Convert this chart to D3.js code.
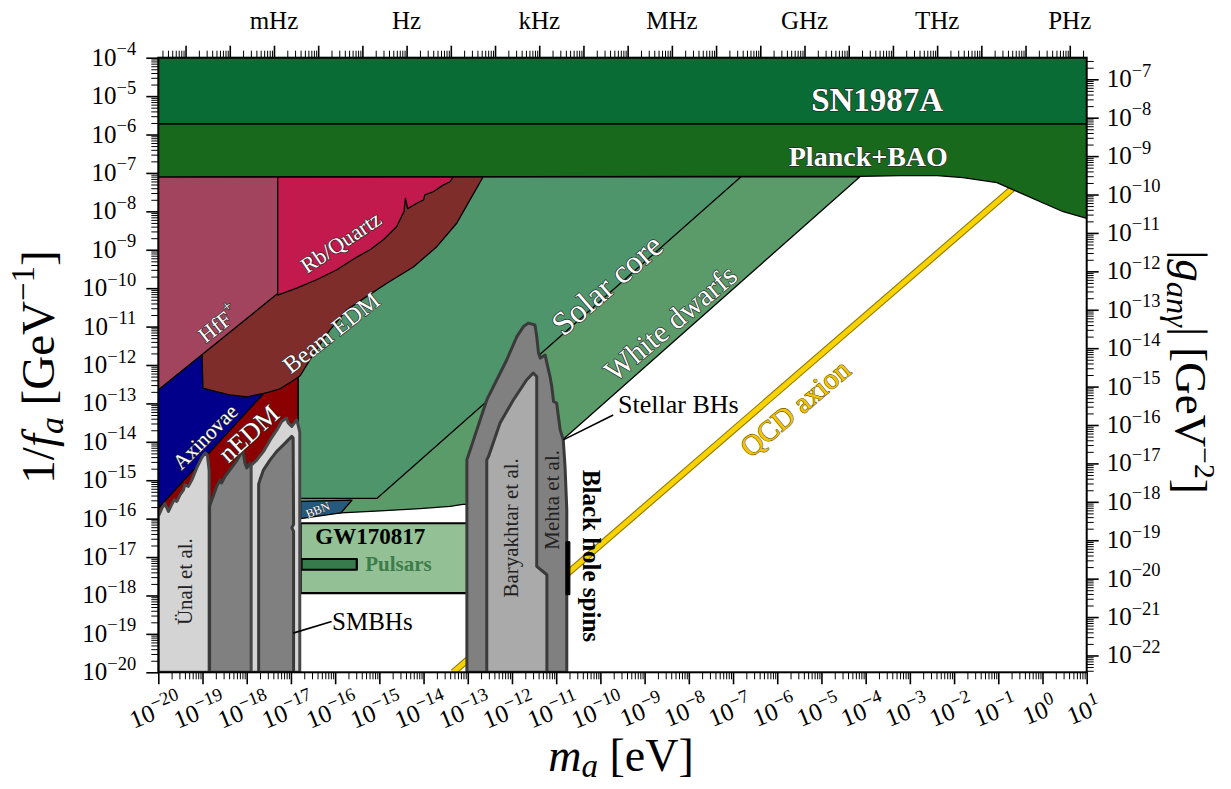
<!DOCTYPE html>
<html>
<head>
<meta charset="utf-8">
<script src="https://cdn.jsdelivr.net/npm/d3@7"></script>
<style>
  body { margin: 0; background: #fff; }
  svg { display: block; font-family: "Palatino Linotype", "Book Antiqua", Palatino, "Liberation Serif", serif; }
</style>
</head>
<body>
<svg id="chart" width="1231" height="789"></svg>
<script>
// --- data: [log10 m_a / eV, log10 (1/f_a) / GeV^-1] ---
const sn1987a = [[-20, -4], [1, -4], [1, -5.72], [-20, -5.72]];
const planckBAO = [[-20, -5.72], [1, -5.72], [1, -8.18], [0.47, -8.01], [-0.05, -7.75], [-0.66, -7.44],
  [-1.03, -7.25], [-1.80, -7.12], [-2.38, -7.07], [-3.22, -7.07], [-4.13, -7.09], [-20, -7.1]];
const hff = [[-20, -7.1], [-17.30, -7.1], [-17.30, -10.14], [-20, -12.65]];
const rbQuartz = [[-17.30, -7.1], [-13.33, -7.1], [-13.40, -7.23], [-13.55, -7.31], [-13.78, -7.49], [-13.97, -7.57],
  [-14.00, -7.70], [-14.15, -7.79], [-14.36, -7.93], [-14.41, -7.66], [-14.44, -8.00], [-14.61, -8.40],
  [-14.91, -8.74], [-15.21, -9.00], [-15.51, -9.19], [-15.96, -9.52], [-16.42, -9.78], [-16.87, -10.00], [-17.30, -10.18]];
const beamEDM = [[-19.01, -7.1], [-12.65, -7.1], [-12.95, -7.70], [-13.25, -8.31], [-13.70, -8.92], [-14.23, -9.45],
  [-14.83, -9.87], [-15.29, -10.22], [-15.74, -10.57], [-16.12, -11.09], [-16.46, -11.66], [-16.79, -12.28],
  [-17.02, -12.46], [-17.25, -12.62], [-17.54, -12.72], [-17.99, -12.83], [-18.38, -12.78], [-18.67, -12.70],
  [-18.99, -12.60], [-19.01, -11.76]];
const axinovae = [[-20, -10.0], [-17.63, -10.0], [-17.63, -12.76], [-20, -15.73]];
const nEDM = [[-20, -10.0], [-16.84, -10.0], [-16.84, -20], [-20, -20]];
const solarCore = [[-16.84, -7.1], [-6.82, -7.1], [-15.05, -15.47], [-16.84, -15.47]];
const whiteDwarfs = [[-16.84, -7.1], [-4.13, -7.1], [-12.50, -15.62], [-13.11, -15.63], [-13.40, -15.68],
  [-14.08, -15.74], [-14.98, -15.80], [-15.87, -15.85], [-16.84, -15.88]];
const bbn = [[-16.78, -15.55], [-15.62, -15.52], [-15.87, -15.85], [-16.78, -16.00]];
const gw170817 = [[-16.78, -16.12], [-12.95, -16.12], [-12.95, -17.94], [-16.78, -17.94]];
const pulsars = [[-16.76, -17.05], [-15.51, -17.05], [-15.51, -17.33], [-16.76, -17.33]];
const qcdAxion = [[-13.33, -20], [-0.66, -7.39]];
const unal = [[-20, -20], [-20, -15.94], [-19.92, -15.73], [-19.85, -15.61], [-19.77, -15.81], [-19.70, -15.64],
  [-19.64, -15.51], [-19.58, -15.55], [-19.51, -15.38], [-19.43, -15.25], [-19.40, -15.12], [-19.32, -15.16],
  [-19.24, -14.99], [-19.13, -14.68], [-19.02, -14.42], [-18.94, -14.29], [-18.89, -14.34], [-18.85, -14.75], [-18.85, -20]];
const smbhA = [[-18.84, -20], [-18.84, -15.70], [-18.83, -15.64], [-18.76, -15.42], [-18.68, -15.16], [-18.60, -14.99],
  [-18.57, -15.07], [-18.49, -14.90], [-18.38, -14.73], [-18.26, -14.55], [-18.15, -14.34], [-18.09, -14.21],
  [-18.04, -14.55], [-18.00, -14.68], [-17.93, -14.55], [-17.89, -14.73], [-17.88, -17.05], [-17.84, -17.15],
  [-17.88, -17.25], [-17.88, -20]];
const smbhEnvelope = [[-17.90, -20], [-17.90, -14.62], [-17.89, -14.60], [-17.77, -14.47], [-17.62, -14.25],
  [-17.47, -13.95], [-17.32, -13.69], [-17.21, -13.47], [-17.10, -13.38], [-17.06, -13.51], [-16.98, -13.60],
  [-16.87, -13.43], [-16.83, -13.60], [-16.80, -13.75], [-16.80, -20]];
const smbhB = [[-17.73, -20], [-17.73, -15.10], [-17.70, -14.99], [-17.62, -14.73], [-17.47, -14.47], [-17.32, -14.25],
  [-17.17, -14.08], [-17.06, -13.95], [-16.98, -13.86], [-16.95, -13.90], [-16.94, -16.15], [-16.98, -16.24],
  [-16.94, -16.33], [-16.94, -20]];
const stellarBH = [[-13.02, -20], [-13.02, -14.47], [-12.57, -12.91], [-12.12, -11.87], [-11.89, -11.26],
  [-11.74, -11.00], [-11.63, -10.91], [-11.48, -10.96], [-11.44, -11.26], [-11.40, -11.69], [-11.36, -11.82],
  [-11.25, -11.74], [-11.21, -11.95], [-11.14, -12.30], [-11.10, -12.56], [-11.06, -12.95], [-10.99, -12.99],
  [-10.91, -13.69], [-10.84, -13.95], [-10.80, -14.64], [-10.76, -15.77], [-10.76, -20]];
const baryakhtar = [[-12.57, -20], [-12.57, -14.47], [-12.53, -14.38], [-12.27, -13.51], [-11.97, -12.91],
  [-11.67, -12.39], [-11.52, -12.21], [-11.44, -12.30], [-11.44, -17.24], [-11.21, -17.46], [-11.21, -20]];
const bhSpinBar = [[-10.78, -16.60], [-10.69, -16.60], [-10.69, -17.98], [-10.78, -17.98]];
const stellarLeader = [[-10.84, -13.95], [-9.71, -13.30]];
const smbhLeader = [[-16.95, -18.98], [-16.08, -18.68]];

// axis ticks
const xExps = d3.range(-20, 2);        // 10^-20 ... 10^1 eV
const yExps = d3.range(-20, -3);       // 10^-20 ... 10^-4 GeV^-1
const gExps = d3.range(-22, -6);       // 10^-22 ... 10^-7 GeV^-2
const freqUnits = ["mHz", "Hz", "kHz", "MHz", "GHz", "THz", "PHz"];
const freqExps = [-3, 0, 3, 6, 9, 12, 15];
const gPerInvFa = 10 ** -2.438;        // right axis offset
const hPlanck = 4.135667e-15;          // eV s

const W = 1231, H = 789;
const margin = { top: 57.7, right: 144.3, bottom: 116.7, left: 158.3 };

const x = d3.scaleLog().domain([1e-20, 10]).range([margin.left, W - margin.right]);
const y = d3.scaleLog().domain([1e-20, 1e-4]).range([H - margin.bottom, margin.top]);
const yR = d3.scaleLog().domain([1e-20 * gPerInvFa, 1e-4 * gPerInvFa]).range(y.range());
const xTop = d3.scaleLog().domain([1e-20 / hPlanck, 10 / hPlanck]).range(x.range());

const svg = d3.select("#chart");
const [x0, x1] = x.range(), [y1, y0] = y.range();

svg.append("clipPath").attr("id", "plotclip")
  .append("rect").attr("x", x0).attr("y", y0).attr("width", x1 - x0).attr("height", y1 - y0);

const plot = svg.append("g").attr("clip-path", "url(#plotclip)");
const line = d3.line().x(d => x(10 ** d[0])).y(d => y(10 ** d[1]));

function region(pts, fill, stroke = "#000", sw = 1.3) {
  plot.append("path")
    .attr("d", line(pts) + "Z")
    .attr("fill", fill)
    .attr("stroke", stroke)
    .attr("stroke-width", sw)
    .attr("stroke-linejoin", "round");
}

// --- regions, back to front ---
region(whiteDwarfs, "#5a9b69");
region(solarCore, "#4f956c");
region(bbn, "#26597e");
region(gw170817, "#93c094", "#000", 2.2);
region(pulsars, "#377a4b", "#000", 2.2);
region(nEDM, "#8b0000");
region(axinovae, "#00008b");
region(beamEDM, "#7e2d2b");
region(hff, "#a3445e");
region(rbQuartz, "#c21a4c");

plot.append("path").attr("d", line(qcdAxion))
  .attr("stroke", "#8f7800").attr("stroke-width", 7).attr("fill", "none");
plot.append("path").attr("d", line(qcdAxion))
  .attr("stroke", "#f9d300").attr("stroke-width", 4.8).attr("fill", "none");

region(stellarBH, "#808080", "#3a3a3a", 3);
region(baryakhtar, "#aaaaaa", "#3a3a3a", 3);
region(bhSpinBar, "#000", "#000", 1);
region(unal, "#d4d4d4", "#474747", 3);
region(smbhA, "#808080", "#3a3a3a", 3);
region(smbhEnvelope, "#d4d4d4", "#474747", 3);
region(smbhB, "#808080", "#3a3a3a", 3);
region(planckBAO, "#19691d");
region(sn1987a, "#086c34");

for (const l of [stellarLeader, smbhLeader]) {
  plot.append("path").attr("d", line(l)).attr("stroke", "#000").attr("stroke-width", 1.6).attr("fill", "none");
}

// --- rich text helper ---
function rich(sel, parts, fs, supScale = 0.7, subShift = 0.2) {
  let shift = 0;
  for (const p of parts) {
    let target = 0, size = fs;
    if (p.sub) { target = fs * subShift; size = fs * 0.72; }
    if (p.sup) { target = -fs * 0.42; size = fs * supScale; }
    const ts = sel.append("tspan").text(p.t).attr("font-size", size);
    if (target - shift !== 0) ts.attr("dy", target - shift);
    if (p.i) ts.attr("font-style", "italic");
    shift = target;
  }
  return sel;
}
const P = (lx, ly) => [x(10 ** lx), y(10 ** ly)];

// --- in-plot labels ---
const labels = svg.append("g");
function label(txt, lx, ly, opt = {}) {
  const [px, py] = P(lx, ly);
  const g = labels.append("g").attr("transform", `translate(${px},${py}) rotate(${opt.angle || 0})`);
  const t = g.append("text")
    .attr("text-anchor", opt.anchor || "middle")
    .attr("dominant-baseline", opt.baseline || "central")
    .attr("font-size", opt.size || 22)
    .attr("font-weight", opt.bold ? "bold" : null)
    .attr("fill", opt.fill || "#000");
  if (opt.stroke) t.attr("stroke", opt.stroke).attr("stroke-width", opt.sw || 1.2).attr("paint-order", "stroke").attr("stroke-linejoin", "round");
  if (Array.isArray(txt)) rich(t, txt, opt.size || 22); else t.text(txt);
}
const white = { fill: "#fff", stroke: "#2a2a2a", sw: 1.4 };

label("SN1987A", -3.74, -5.39, { ...white, size: 33, bold: true, baseline: "alphabetic" });
label("Planck+BAO", -3.94, -6.82, { ...white, size: 28, bold: true, baseline: "alphabetic" });
label("Solar core", -9.85, -9.91, { ...white, size: 33, angle: -41 });
label("White dwarfs", -8.42, -10.90, { ...white, size: 30, angle: -40 });
label("Beam EDM", -16.09, -11.16, { ...white, size: 24, angle: -38 });
label([{ t: "HfF" }, { t: "+", sup: true }], -18.65, -10.93, { ...white, size: 22, angle: -38 });
label("Rb/Quartz", -15.87, -8.80, { ...white, size: 22, angle: -34 });
label("Axinovae", -18.94, -13.87, { ...white, size: 21, angle: -45 });
label("nEDM", -17.95, -13.79, { ...white, size: 26, angle: -42 });
label("BBN", -16.39, -15.77, { ...white, size: 12, sw: 0.8, angle: -22 });
label("QCD axion", -5.60, -13.12, { fill: "#f2c500", stroke: "#6b5800", sw: 1.2, size: 29, angle: -40 });
label("Ünal et al.", -19.40, -17.64, { size: 21, angle: -90, fill: "#222" });
label("Baryakhtar et al.", -12.02, -16.24, { size: 21, angle: -90, fill: "#222" });
label("Mehta et al.", -11.09, -15.51, { size: 21, angle: -90, fill: "#222" });
label("Black hole spins", -10.19, -16.97, { size: 25, angle: 90, bold: true });
label("Stellar BHs", -9.60, -13.25, { size: 26, anchor: "start", baseline: "alphabetic" });
label("SMBHs", -16.07, -18.89, { size: 25, anchor: "start", baseline: "alphabetic" });
label("GW170817", -16.45, -16.65, { size: 23, bold: true, anchor: "start", baseline: "alphabetic" });
label("Pulsars", -15.32, -17.35, { size: 21, bold: true, anchor: "start", baseline: "alphabetic", fill: "#3d7c4b" });

// --- frame ---
svg.append("rect").attr("x", x0).attr("y", y0).attr("width", x1 - x0).attr("height", y1 - y0)
  .attr("fill", "none").attr("stroke", "#000").attr("stroke-width", 2);

// --- axes ---
function minorsOf(scale, lo, hi) {
  const [a, b] = d3.extent(scale.domain());
  const out = [];
  for (let e = lo; e <= hi; e++) for (let k = 2; k <= 9; k++) {
    const v = k * 10 ** e;
    if (v >= a * 0.999 && v <= b * 1.001) out.push(v);
  }
  return out;
}
function tickAxis(axisFn, scale, vals, size, sw, tr) {
  svg.append("g").attr("transform", tr)
    .call(axisFn(scale).tickValues(vals).tickSize(size).tickFormat(""))
    .call(g => g.select(".domain").remove())
    .call(g => g.selectAll(".tick line").attr("stroke", "#000").attr("stroke-width", sw));
}
tickAxis(d3.axisLeft, y, yExps.map(e => 10 ** e), 12, 1.6, `translate(${x0},0)`);
tickAxis(d3.axisLeft, y, minorsOf(y, -20, -5), 7, 1, `translate(${x0},0)`);
tickAxis(d3.axisBottom, x, xExps.map(e => 10 ** e), 12, 1.6, `translate(0,${y1})`);
tickAxis(d3.axisBottom, x, minorsOf(x, -20, 0), 7, 1, `translate(0,${y1})`);
tickAxis(d3.axisRight, yR, gExps.map(e => 10 ** e), 12, 1.6, `translate(${x1},0)`);
tickAxis(d3.axisRight, yR, minorsOf(yR, -23, -7), 7, 1, `translate(${x1},0)`);
tickAxis(d3.axisTop, xTop, d3.range(-5, 16).map(e => 10 ** e), 12, 1.6, `translate(0,${y0})`);
tickAxis(d3.axisTop, xTop, minorsOf(xTop, -6, 15), 7, 1, `translate(0,${y0})`);

const pow = e => [{ t: "10" }, { t: e < 0 ? "\u2212" + (-e) : String(e), sup: true }];
const TF = 25;
const tl = svg.append("g").attr("font-size", TF).attr("fill", "#000");

for (const e of yExps) {
  rich(tl.append("text").attr("x", x0 - 22).attr("y", y(10 ** e) + 8).attr("text-anchor", "end"), pow(e), TF, 0.74);
}
for (const e of gExps) {
  rich(tl.append("text").attr("x", x1 + 20).attr("y", yR(10 ** e) + 8).attr("text-anchor", "start"), pow(e), TF, 0.74);
}
for (const e of xExps) {
  const g = tl.append("g").attr("transform", `translate(${x(10 ** e) - 3},${y1 + 38}) rotate(-22)`);
  rich(g.append("text").attr("text-anchor", "middle").attr("y", 9), pow(e), TF, 0.74);
}
freqExps.forEach((e, i) => {
  tl.append("text").attr("x", xTop(10 ** e)).attr("y", 29).attr("text-anchor", "middle").text(freqUnits[i]);
});

// --- axis titles ---
rich(svg.append("text").attr("transform", `translate(54,367) rotate(-90)`).attr("text-anchor", "middle"),
  [{ t: "1/" }, { t: "f", i: true }, { t: "a", i: true, sub: true }, { t: " [GeV" }, { t: "\u22121", sup: true }, { t: "]" }], 47);
rich(svg.append("text").attr("x", 621).attr("y", 771).attr("text-anchor", "middle"),
  [{ t: "m", i: true }, { t: "a", i: true, sub: true }, { t: " [eV]" }], 46, 0.7, 0.14);
rich(svg.append("text").attr("transform", `translate(1176,372) rotate(90)`).attr("text-anchor", "middle"),
  [{ t: "|" }, { t: "g", i: true }, { t: "an\u03b3", i: true, sub: true }, { t: "| [GeV" }, { t: "\u22122", sup: true }, { t: "]" }], 45, 0.66);
</script>
</body>
</html>
